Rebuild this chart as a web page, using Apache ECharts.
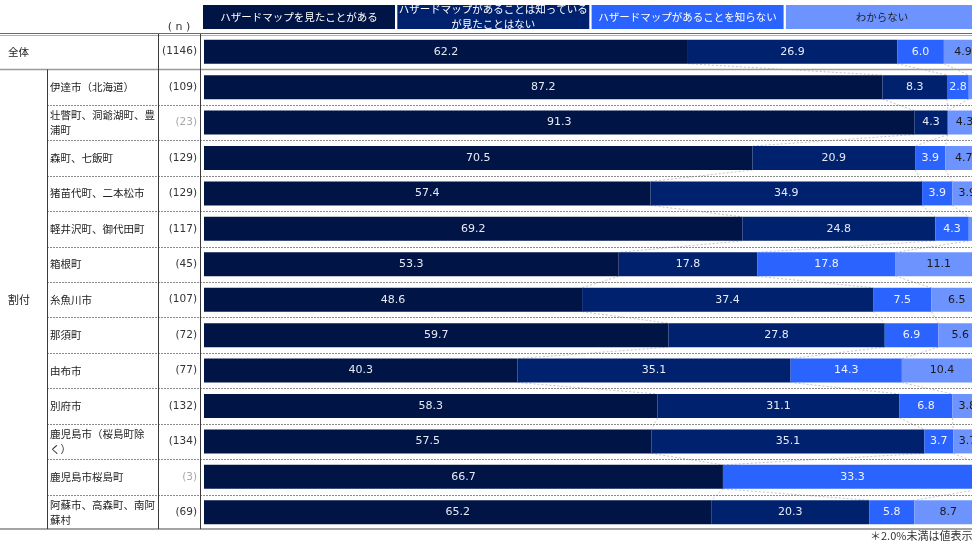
<!DOCTYPE html>
<html>
<head>
<meta charset="utf-8">
<script src="https://cdn.jsdelivr.net/npm/echarts@6/dist/echarts.min.js"></script>
<style>
  html, body { margin: 0; padding: 0; background: #fff; overflow: hidden; }
  /* the bar area runs slightly past the right edge of the page */
  #chart { width: 992px; height: 541px; }
</style>
</head>
<body>
<div id="chart"></div>
<script>
// ---- data -------------------------------------------------------------
const categories = [
  '全体', '伊達市（北海道）', '壮瞥町、洞爺湖町、豊浦町', '森町、七飯町', '猪苗代町、二本松市',
  '軽井沢町、御代田町', '箱根町', '糸魚川市', '那須町', '由布市', '別府市',
  '鹿児島市（桜島町除く）', '鹿児島市桜島町', '阿蘇市、高森町、南阿蘇村'
];
// row captions as set in the table (with their line breaks)
const categoryCaptions = [
  '全体', '伊達市（北海道）', '壮瞥町、洞爺湖町、豊\n浦町', '森町、七飯町', '猪苗代町、二本松市',
  '軽井沢町、御代田町', '箱根町', '糸魚川市', '那須町', '由布市', '別府市',
  '鹿児島市（桜島町除\nく）', '鹿児島市桜島町', '阿蘇市、高森町、南阿\n蘇村'
];
const sampleSizes = [1146, 109, 23, 129, 129, 117, 45, 107, 72, 77, 132, 134, 3, 69];
const seriesNames = [
  'ハザードマップを見たことがある',
  'ハザードマップがあることは知っている\nが見たことはない',
  'ハザードマップがあることを知らない',
  'わからない'
];
const seenMap      = [62.2, 87.2, 91.3, 70.5, 57.4, 69.2, 53.3, 48.6, 59.7, 40.3, 58.3, 57.5, 66.7, 65.2];
const knownNotSeen = [26.9,  8.3,  4.3, 20.9, 34.9, 24.8, 17.8, 37.4, 27.8, 35.1, 31.1, 35.1,  0.0, 20.3];
const notKnown     = [ 6.0,  2.8,  0.0,  3.9,  3.9,  4.3, 17.8,  7.5,  6.9, 14.3,  6.8,  3.7, 33.3,  5.8];
const unknownResp  = [ 4.9,  1.7,  4.3,  4.7,  3.9,  1.7, 11.1,  6.5,  5.6, 10.4,  3.8,  3.7,  0.0,  8.7];
const groupLabel = '割付';
const nHeader = '( n )';
const footnote = '＊2.0%未満は値表示なし';
const smallSampleLimit = 30;   // n below this is shown in grey
const labelThreshold = 2.0;    // values below this carry no label

// ---- styling ----------------------------------------------------------
const colors = ['#001446', '#00216e', '#2b63ff', '#6d93ff'];
const labelColors = ['#e6eaf5', '#e6eaf5', '#eef2ff', '#1a1a1a'];
const valueSets = [seenMap, knownNotSeen, notKnown, unknownResp];
const BAR_W = 24;
const JP = '"Noto Sans CJK JP", "Noto Sans", sans-serif';
const NUM = '"DejaVu Sans", "Noto Sans", sans-serif';

const chart = echarts.init(document.getElementById('chart'), null, { renderer: 'canvas' });

// series lines joining segment boundaries between consecutive bars
const joinData = [];
for (let i = 0; i < categories.length - 1; i++) {
  for (let k = 0; k < 3; k++) joinData.push([0, i, k]);
}
function cum(row, k) {
  let s = 0;
  for (let j = 0; j <= k; j++) s += valueSets[j][row];
  return s;
}

const barSeries = valueSets.map((vals, idx) => ({
  name: seriesNames[idx],
  type: 'bar',
  stack: 'total',
  barWidth: BAR_W,
  data: vals,
  itemStyle: { color: colors[idx] },
  z: 3,
  label: {
    show: true,
    position: 'inside',
    color: labelColors[idx],
    fontFamily: NUM,
    fontSize: 11,
    formatter: p => (p.value >= labelThreshold ? p.value.toFixed(1) : '')
  },
  emphasis: { disabled: true }
}));

chart.setOption({
  animation: false,
  backgroundColor: '#fff',
  grid: { left: 204, top: 34, width: 778, height: 496, containLabel: false },
  xAxis: { type: 'value', min: 0, max: 100, show: false },
  yAxis: {
    type: 'category', data: categories, inverse: true,
    axisLine: { show: false }, axisTick: { show: false }, axisLabel: { show: false }
  },
  series: [
    {
      type: 'custom',
      z: 1,
      silent: true,
      data: joinData,
      encode: { x: 0, y: 1 },
      renderItem: (params, api) => {
        const row = api.value(1), k = api.value(2);
        const a = api.coord([cum(row, k), row]);
        const b = api.coord([cum(row + 1, k), row + 1]);
        return {
          type: 'line',
          shape: { x1: a[0], y1: a[1] + BAR_W / 2, x2: b[0], y2: b[1] - BAR_W / 2 },
          style: { stroke: '#c4c4c4', lineWidth: 1, lineDash: [2, 2] }
        };
      }
    },
    ...barSeries
  ]
});

// ---- table frame, row texts and legend boxes --------------------------
const W = 992;
const centers = categories.map((c, i) => chart.convertToPixel({ yAxisIndex: 0 }, i));
const band = centers[1] - centers[0];
const tableTop = centers[0] - band / 2;
const tableBottom = centers[centers.length - 1] + band / 2;
const COL_GROUP = 47, COL_N = 158, COL_BAR = 200;

const g = [];
const rule = (x1, y1, x2, y2, stroke, lw, dash) => g.push({
  type: 'line', silent: true, z: 10,
  shape: { x1, y1, x2, y2 },
  style: { stroke, lineWidth: lw, lineDash: dash || null }
});

// horizontal rules
rule(0, tableTop - 0.5, W, tableTop - 0.5, '#6a6a6a', 1);
rule(0, tableTop + 1.5, W, tableTop + 1.5, '#b0b0b0', 1);
const afterTotal = centers[0] + band / 2;
rule(0, afterTotal, W, afterTotal, '#9a9a9a', 1.5);
for (let i = 1; i < categories.length - 1; i++) {
  const y = Math.round(centers[i] + band / 2) + 0.5;
  rule(COL_GROUP, y, W, y, '#8a8a8a', 1, [2, 1]);
}
rule(0, tableBottom - 1, W, tableBottom - 1, '#4a4a4a', 1.2);
// vertical rules
rule(COL_GROUP + 0.5, afterTotal, COL_GROUP + 0.5, tableBottom - 1, '#3a3a3a', 1);
rule(COL_N + 0.5, tableTop, COL_N + 0.5, tableBottom - 1, '#3a3a3a', 1);
rule(COL_BAR + 0.5, tableTop, COL_BAR + 0.5, tableBottom - 1, '#3a3a3a', 1);

// header (n)
g.push({ type: 'text', silent: true, z: 10, x: 179, y: 27,
  style: { text: nHeader, fill: '#333', font: '11px ' + NUM, align: 'center', verticalAlign: 'middle' } });

// row labels and sample sizes
categoryCaptions.forEach((caption, i) => {
  const y = centers[i];
  g.push({
    type: 'text', silent: true, z: 10,
    x: i === 0 ? 8 : 50, y,
    style: {
      text: caption, fill: '#222', font: '10.5px ' + JP, lineHeight: 15,
      verticalAlign: 'middle', align: 'left'
    }
  });
  g.push({
    type: 'text', silent: true, z: 10,
    x: COL_BAR - 3, y,
    style: {
      text: '(' + sampleSizes[i] + ')',
      fill: sampleSizes[i] < smallSampleLimit ? '#a8a8a8' : '#333',
      font: '10.5px ' + NUM, align: 'right', verticalAlign: 'middle'
    }
  });
});

// group label spanning the area rows
g.push({ type: 'text', silent: true, z: 10, x: 8, y: (afterTotal + tableBottom) / 2,
  style: { text: groupLabel, fill: '#222', font: '11px ' + JP, verticalAlign: 'middle' } });

// legend boxes across the top
const boxLeft = 203, boxW = 192, boxGap = 2.3, boxTop = 5, boxH = 24;
seriesNames.forEach((nm, idx) => {
  const x = boxLeft + idx * (boxW + boxGap);
  g.push({ type: 'rect', silent: true, z: 10,
    shape: { x, y: boxTop, width: boxW, height: boxH },
    style: { fill: colors[idx] } });
  const twoLine = nm.indexOf('\n') >= 0;
  g.push({ type: 'text', silent: true, z: 11,
    x: x + boxW / 2, y: twoLine ? boxTop + 12 : boxTop + boxH / 2,
    style: {
      text: nm, fill: idx === 3 ? '#222' : '#fff', font: '10.5px ' + JP,
      align: 'center', verticalAlign: 'middle', lineHeight: 15
    } });
});
// white strip keeps the legend's second line from spilling over the rule
g.push({ type: 'rect', silent: true, z: 12,
  shape: { x: boxLeft, y: boxTop + boxH, width: W - boxLeft, height: tableTop - 1 - boxTop - boxH },
  style: { fill: '#fff' } });

// footnote
g.push({ type: 'text', silent: true, z: 10, x: 870, y: tableBottom + 6,
  style: { text: footnote, fill: '#333', font: '11px ' + JP, verticalAlign: 'middle' } });

chart.setOption({ graphic: g });
</script>
</body>
</html>
